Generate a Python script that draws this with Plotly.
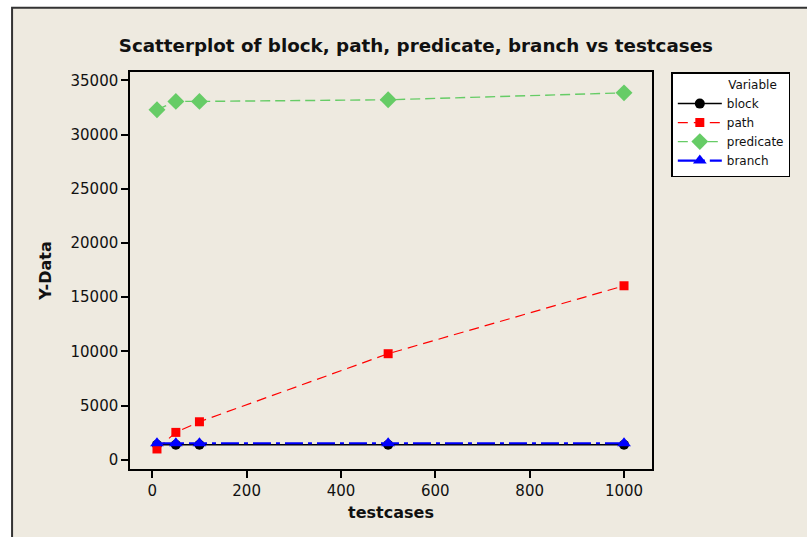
import plotly.graph_objects as go

# Measurements per number of testcases
testcases = [10, 50, 100, 500, 1000]
block = [1380, 1380, 1380, 1380, 1380]
path = [990, 2520, 3500, 9780, 16050]
predicate = [32290, 33060, 33060, 33210, 33850]
branch = [1520, 1520, 1520, 1520, 1520]

x_ticks = [0, 200, 400, 600, 800, 1000]
y_ticks = [0, 5000, 10000, 15000, 20000, 25000, 30000, 35000]
y_tick_labels = [str(v) for v in y_ticks]

series = [
    ("block", block, dict(color="black", width=1.5, dash="solid"),
     dict(symbol="circle", size=10, color="black")),
    ("path", path, dict(color="#FF0000", width=1.2, dash="10px,6px"),
     dict(symbol="square", size=9, color="#FF0000")),
    ("predicate", predicate, dict(color="#66CC66", width=1.4, dash="10px,5px"),
     dict(symbol="diamond", size=13, color="#66CC66")),
    ("branch", branch, dict(color="#0000FF", width=2.2, dash="18px,5px,4px,5px"),
     dict(symbol="triangle-up", size=12, color="#0000FF")),
]

FONT = "DejaVu Sans"
BEIGE = "#EEEAE0"

fig = go.Figure()
for name, ys, line, marker in series:
    fig.add_trace(go.Scatter(x=testcases, y=ys, name=name, mode="lines+markers",
                             line=line, marker=marker))

axis_common = dict(
    showgrid=False, zeroline=False, showline=True, linecolor="black", linewidth=1.5,
    mirror=True, ticks="outside", ticklen=7, tickwidth=1.5, tickcolor="black",
    tickfont=dict(family=FONT, size=15, color="#111"),
)

fig.update_layout(
    width=807, height=537,
    margin=dict(l=130, r=155, t=72, b=68),
    paper_bgcolor="white", plot_bgcolor="white",
    title=dict(text="<b>Scatterplot of block, path, predicate, branch vs testcases</b>",
               x=0.5476, xref="paper", xanchor="center",
               y=1 - 46 / 537, yref="container", yanchor="middle",
               font=dict(family=FONT, size=18.3, color="#111")),
    xaxis=dict(axis_common, range=[-47.2, 1059.3], tickvals=x_ticks,
               title=dict(text="<b>testcases</b>", font=dict(family=FONT, size=16, color="#111"),
                          standoff=8)),
    yaxis=dict(axis_common, range=[-858, 35775],
               tickvals=y_ticks, ticktext=y_tick_labels,
               title=dict(text="<b>Y-Data</b>", font=dict(family=FONT, size=16, color="#111"),
                          standoff=15)),
    legend=dict(x=1.037, xanchor="left", y=1.0, yanchor="top",
                bgcolor="white", bordercolor="black", borderwidth=1.5,
                font=dict(family=FONT, size=12, color="#111"),
                itemwidth=44, tracegroupgap=0,
                title=dict(text="\u00a0" * 14 + "Variable",
                           font=dict(family=FONT, size=12, color="#111"))),
    shapes=[dict(type="rect", xref="paper", yref="paper", layer="below",
                 x0=(12 - 130) / 522.3, x1=(807 + 20 - 130) / 522.3,
                 y0=-(68 + 20) / 397, y1=(469.3 - 8) / 397,
                 fillcolor=BEIGE, line=dict(color="#333", width=2))],
)

fig.write_html("out.html")
